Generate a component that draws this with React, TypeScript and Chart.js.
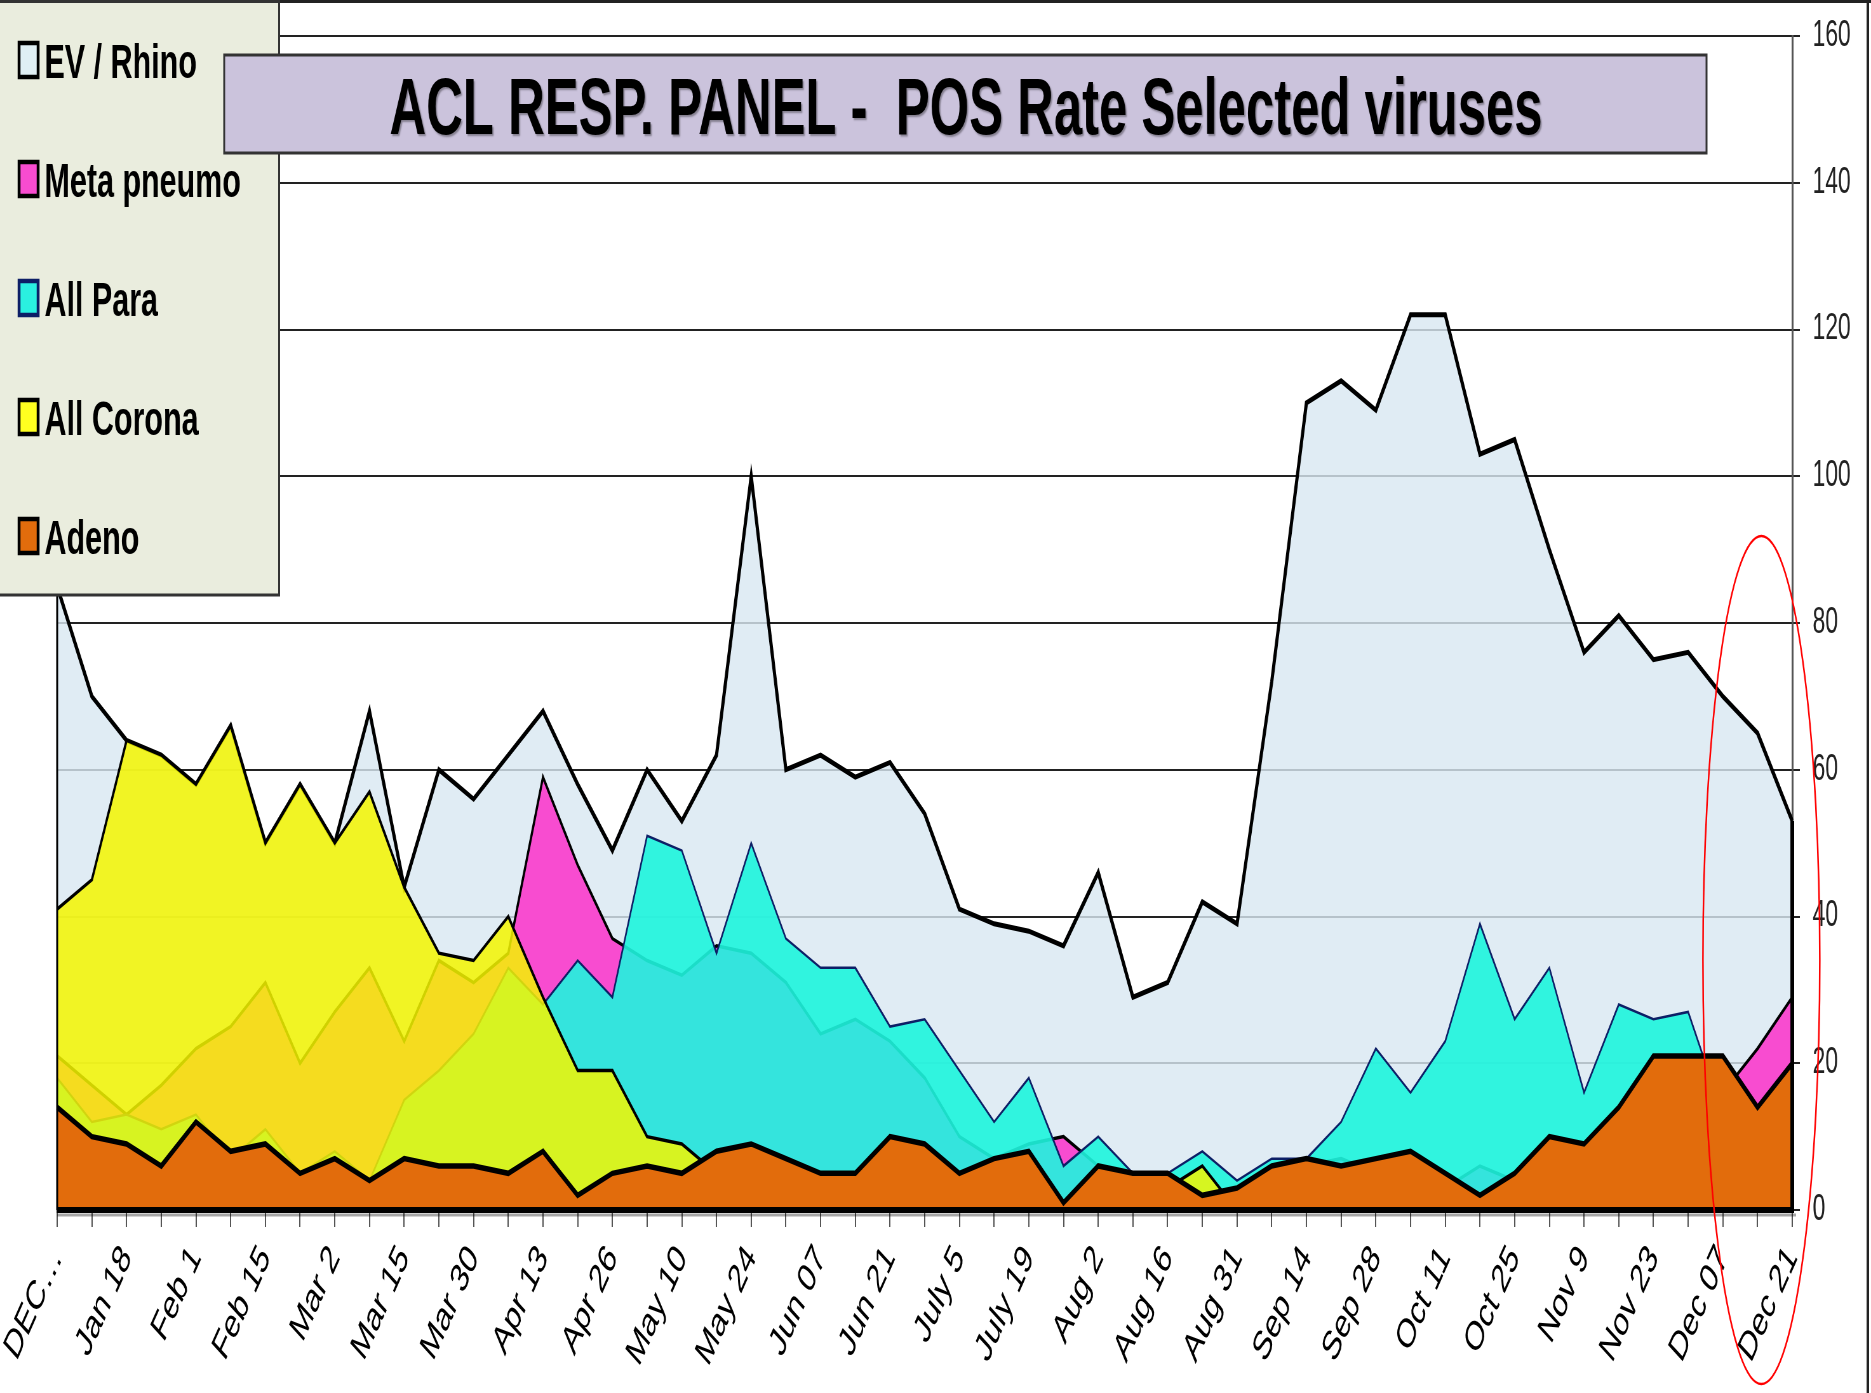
import React, { useEffect, useRef } from 'react';
import { Chart, registerables } from 'chart.js';

Chart.register(...registerables);

// ---------- data (weekly points, one tick label every second week) ----------
const tickLabels = [
  'DEC\u2026', 'Jan 18', 'Feb 1', 'Feb 15', 'Mar 2', 'Mar 15', 'Mar 30', 'Apr 13', 'Apr 26',
  'May 10', 'May 24', 'Jun 07', 'Jun 21', 'July 5', 'July 19', 'Aug 2', 'Aug 16', 'Aug 31',
  'Sep 14', 'Sep 28', 'Oct 11', 'Oct 25', 'Nov 9', 'Nov 23', 'Dec 07', 'Dec 21',
];

const evRhino = [
  85, 70, 64, 62, 58, 66, 50, 58, 50, 68,
  44, 60, 56, 62, 68, 58, 49, 60, 53, 62,
  100, 60, 62, 59, 61, 54, 41, 39, 38, 36,
  46, 29, 31, 42, 39, 72, 110, 113, 109, 122,
  122, 103, 105, 90, 76, 81, 75, 76, 70, 65,
  53,
];

const metaPneumo = [
  21, 17, 13, 17, 22, 25, 31, 20, 27, 33,
  23, 34, 31, 35, 59, 47, 37, 34, 32, 36,
  35, 31, 24, 26, 23, 18, 10, 7, 9, 10,
  6, 4, 3, 2, 3, 5, 6, 7, 5, 4,
  3, 6, 4, 5, 6, 8, 12, 15, 16, 22,
  29,
];

const allPara = [
  18, 12, 13, 11, 13, 7, 11, 5, 8, 4,
  15, 19, 24, 33, 28, 34, 29, 51, 49, 35,
  50, 37, 33, 33, 25, 26, 19, 12, 18, 6,
  10, 5, 5, 8, 4, 7, 7, 12, 22, 16,
  23, 39, 26, 33, 16, 28, 26, 27, 13, 10,
  15,
];

const allCorona = [
  41, 45, 64, 62, 58, 66, 50, 58, 50, 57,
  44, 35, 34, 40, 29, 19, 19, 10, 9, 5,
  3, 2, 2, 1, 2, 2, 1, 2, 1, 0,
  1, 2, 3, 6, 0, 1, 1, 1, 1, 1,
  1, 1, 1, 1, 1, 1, 1, 1, 1, 1,
  1,
];

const adeno = [
  14, 10, 9, 6, 12, 8, 9, 5, 7, 4,
  7, 6, 6, 5, 8, 2, 5, 6, 5, 8,
  9, 7, 5, 5, 10, 9, 5, 7, 8, 1,
  6, 5, 5, 2, 3, 6, 7, 6, 7, 8,
  5, 2, 5, 10, 9, 14, 21, 21, 21, 14,
  20,
];

const TITLE = 'ACL RESP. PANEL -  POS Rate Selected viruses';

// ---------- layout / style ----------
const VIEW_W = 1871;
const VIEW_H = 1393;
const SQUEEZE = 0.635; // the original slide is horizontally condensed
const CANVAS_W = Math.round(VIEW_W / SQUEEZE);
const FONT = '"Liberation Sans", Arial, Helvetica, sans-serif';

const weekLabels = evRhino.map((_, i) => (i % 2 === 0 ? tickLabels[i / 2] : ''));

const legendMarkers = [
  { fill: '#e0eff4', stroke: '#000' },
  { fill: '#f84cd0', stroke: '#000' },
  { fill: '#2af0e0', stroke: '#0d1f66' },
  { fill: '#ffff20', stroke: '#000' },
  { fill: '#e26c0c', stroke: '#000' },
];

const decorPlugin = {
  id: 'decor',
  afterDatasetsDraw(chart: any) {
    const { ctx, chartArea: a } = chart;
    const xs = chart.scales.x;
    const ys = chart.scales.y;
    const last = evRhino.length - 1;
    const y0 = ys.getPixelForValue(0);
    ctx.save();
    ctx.strokeStyle = '#000';
    ctx.lineWidth = 3;
    ctx.beginPath();
    ctx.moveTo(xs.getPixelForValue(0), ys.getPixelForValue(evRhino[0]));
    ctx.lineTo(xs.getPixelForValue(0), y0);
    ctx.stroke();
    ctx.lineWidth = 6;
    ctx.beginPath();
    ctx.moveTo(xs.getPixelForValue(last), ys.getPixelForValue(evRhino[last]));
    ctx.lineTo(xs.getPixelForValue(last), y0);
    ctx.stroke();
    ctx.strokeStyle = 'rgba(0,0,0,0.35)';
    ctx.lineWidth = 3;
    ctx.beginPath();
    ctx.moveTo(a.left, y0 + 5);
    ctx.lineTo(a.right + 6, y0 + 5);
    ctx.stroke();
    ctx.strokeStyle = '#000';
    ctx.lineWidth = 6;
    ctx.beginPath();
    ctx.moveTo(a.left - 1, y0);
    ctx.lineTo(a.right + 3, y0);
    ctx.stroke();
    ctx.restore();
  },
  afterDraw(chart: any) {
    const { ctx, width } = chart;
    const xs = chart.scales.x;
    ctx.save();
    // outer frame (top + right)
    ctx.strokeStyle = '#222';
    ctx.lineWidth = 3;
    ctx.beginPath();
    ctx.moveTo(0, 1.5);
    ctx.lineTo(width, 1.5);
    ctx.stroke();
    ctx.lineWidth = 4;
    ctx.beginPath();
    ctx.moveTo(width - 5, 0);
    ctx.lineTo(width - 5, chart.height);
    ctx.stroke();

    // legend box
    const LW = 441, LH = 594;
    ctx.fillStyle = '#eaedde';
    ctx.fillRect(0, 0, LW, LH);
    ctx.strokeStyle = '#333';
    ctx.lineWidth = 3;
    ctx.strokeRect(-2, 1.5, LW + 0.5, LH - 0.5);
    ctx.font = `bold 48px ${FONT}`;
    ctx.textAlign = 'left';
    ctx.textBaseline = 'alphabetic';
    chart.data.datasets.forEach((ds: any, i: number) => {
      const base = 78 + i * 119;
      const m = legendMarkers[i];
      ctx.fillStyle = m.fill;
      ctx.fillRect(30, base - 35, 30, 34);
      ctx.strokeStyle = m.stroke;
      ctx.lineWidth = 4.5;
      ctx.strokeRect(30, base - 35, 30, 34);
      ctx.fillStyle = '#000';
      ctx.fillText(ds.label, 70, base);
    });

    // title box (drawn over the legend, as in the original slide)
    const tx0 = 353, ty0 = 55, tx1 = 2687, ty1 = 153;
    ctx.fillStyle = '#cbc3dc';
    ctx.fillRect(tx0, ty0, tx1 - tx0, ty1 - ty0);
    ctx.strokeStyle = '#333';
    ctx.lineWidth = 3;
    ctx.strokeRect(tx0, ty0, tx1 - tx0, ty1 - ty0);
    ctx.save();
    ctx.font = `bold 80px ${FONT}`;
    ctx.textAlign = 'center';
    ctx.textBaseline = 'alphabetic';
    ctx.fillStyle = '#000';
    ctx.shadowColor = 'rgba(0,0,0,0.35)';
    ctx.shadowOffsetX = 2;
    ctx.shadowOffsetY = 2;
    ctx.shadowBlur = 2;
    ctx.fillText(TITLE, 1521, 134);
    ctx.restore();

    // red hand-drawn highlight ellipse around the last weeks
    ctx.strokeStyle = '#ff0000';
    ctx.lineWidth = 2.5;
    ctx.beginPath();
    ctx.ellipse(xs.getPixelForValue(49) + 6, 960, 92, 424, 0, 0, Math.PI * 2);
    ctx.stroke();
    ctx.restore();
  },
};

export default function App() {
  const canvasRef = useRef<HTMLCanvasElement | null>(null);

  useEffect(() => {
    const canvas = canvasRef.current;
    if (!canvas) return;
    const chart = new Chart(canvas, {
      type: 'line',
      data: {
        labels: weekLabels,
        datasets: [
          {
            label: 'EV / Rhino',
            data: evRhino,
            order: 5,
            fill: 'origin',
            backgroundColor: 'rgba(217,232,242,0.81)',
            borderColor: '#000',
            borderWidth: 5,
          },
          {
            label: 'Meta pneumo',
            data: metaPneumo,
            order: 4,
            fill: 'origin',
            backgroundColor: 'rgb(248,76,208)',
            borderColor: '#000',
            borderWidth: 3.5,
          },
          {
            label: 'All Para',
            data: allPara,
            order: 3,
            fill: 'origin',
            backgroundColor: 'rgba(30,245,222,0.9)',
            borderColor: '#0d1f66',
            borderWidth: 2.5,
          },
          {
            label: 'All Corona',
            data: allCorona,
            order: 2,
            fill: 'origin',
            backgroundColor: 'rgba(245,246,0,0.85)',
            borderColor: '#000',
            borderWidth: 3.5,
          },
          {
            label: 'Adeno',
            data: adeno,
            order: 1,
            fill: 'origin',
            backgroundColor: '#e26c0c',
            borderColor: '#000',
            borderWidth: 5.5,
          },
        ],
      },
      options: {
        responsive: false,
        maintainAspectRatio: false,
        animation: false,
        devicePixelRatio: 1,
        layout: { padding: { left: 90, top: 36, right: 0, bottom: 0 } },
        elements: {
          point: { radius: 0, hoverRadius: 0 },
          line: { tension: 0, borderJoinStyle: 'miter' },
        },
        plugins: {
          legend: { display: false },
          title: { display: false },
          tooltip: { enabled: false },
        },
        scales: {
          x: {
            type: 'category',
            offset: false,
            afterFit: (s: any) => { s.height = VIEW_H - 1210; },
            border: { display: false },
            grid: {
              drawOnChartArea: false,
              drawTicks: true,
              tickLength: 17,
              color: '#555',
              lineWidth: 2,
            },
            ticks: {
              autoSkip: false,
              minRotation: 55,
              maxRotation: 55,
              padding: 10,
              color: '#000',
              font: { family: FONT, size: 41 },
            },
          },
          y: {
            position: 'right',
            min: 0,
            max: 160,
            afterFit: (s: any) => {
              s.width = CANVAS_W - 2822;
              s.paddingTop = 10;
              s.paddingBottom = 10;
            },
            border: { display: true, color: '#555', width: 3 },
            grid: {
              color: '#222',
              lineWidth: 2,
              drawTicks: true,
              tickLength: 12,
              tickColor: '#222',
            },
            ticks: {
              stepSize: 20,
              padding: 20,
              color: '#222',
              font: { family: FONT, size: 36 },
            },
          },
        },
      },
      plugins: [decorPlugin],
    } as any);
    return () => chart.destroy();
  }, []);

  return (
    <div
      style={{
        position: 'absolute',
        left: 0,
        top: 0,
        width: VIEW_W,
        height: VIEW_H,
        overflow: 'hidden',
        background: '#fff',
      }}
    >
      <canvas
        ref={canvasRef}
        width={CANVAS_W}
        height={VIEW_H}
        style={{ width: `${VIEW_W}px`, height: `${VIEW_H}px`, display: 'block' }}
      />
    </div>
  );
}
